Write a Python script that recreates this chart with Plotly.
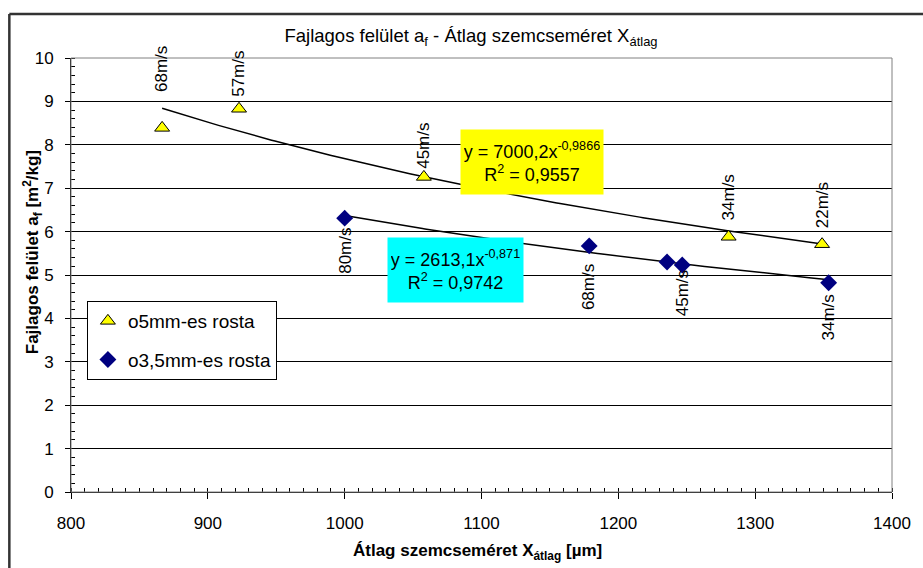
import numpy as np
import plotly.graph_objects as go

# Átlag szemcseméret [µm] és fajlagos felület [m2/kg] a két rostára
x_5mm = [866.6, 922.8, 1057.9, 1280.6, 1348.9]
y_5mm = [8.39, 8.83, 7.26, 5.88, 5.71]
lab_5mm = ["68m/s", "57m/s", "45m/s", "34m/s", "22m/s"]

x_35mm = [1000.0, 1178.7, 1235.6, 1246.7, 1353.7]
y_35mm = [6.31, 5.67, 5.30, 5.23, 4.82]
lab_35mm = ["80m/s", "68m/s", "", "45m/s", "34m/s"]

# hatványfüggvény trendvonalak: y = a * x^b, R^2
fit_5mm = [7000.2, -0.9866, 0.9557]
fit_35mm = [2613.1, -0.871, 0.9742]

x_ticks = [800, 900, 1000, 1100, 1200, 1300, 1400]
y_ticks = [0, 1, 2, 3, 4, 5, 6, 7, 8, 9, 10]

FONT = "Arial, Liberation Sans, sans-serif"


def hu(v):
    return str(v).replace(".", ",")


def eq_text(fit):
    a, b, r2 = fit
    return f"y = {hu(a)}x<sup>{hu(b)}</sup><br>R<sup>2</sup> = {hu(r2)}"


def trend(xs, fit):
    xx = np.linspace(min(xs), max(xs), 200)
    return xx, fit[0] * xx ** fit[1]


fig = go.Figure()

tx, ty = trend(x_5mm, fit_5mm)
fig.add_trace(go.Scatter(x=tx, y=ty, mode="lines", line=dict(color="black", width=1.5),
                         showlegend=False, hoverinfo="skip"))
dx, dy = trend(x_35mm, fit_35mm)
fig.add_trace(go.Scatter(x=dx, y=dy, mode="lines", line=dict(color="black", width=1.5),
                         showlegend=False, hoverinfo="skip"))

fig.add_trace(go.Scatter(
    x=x_5mm, y=y_5mm, mode="markers", name="o5mm-es rosta", legendgroup="a",
    marker=dict(symbol="triangle-up", size=13, color="#FFFF00",
                line=dict(color="black", width=1))))
fig.add_trace(go.Scatter(
    x=x_35mm, y=y_35mm, mode="markers", name="o3,5mm-es rosta", legendgroup="b",
    marker=dict(symbol="diamond", size=13, color="#000080",
                line=dict(color="#000080", width=0))))

annotations = []
# sebesség feliratok (függőlegesen) a pontok fölött / alatt
shift_5mm = [34, 10, 6, 14, 14]
for x, y, t, s in zip(x_5mm, y_5mm, lab_5mm, shift_5mm):
    if t:
        annotations.append(dict(x=x, y=y, text=t, textangle=-90, showarrow=False,
                                xanchor="center", yanchor="bottom", yshift=s,
                                font=dict(family=FONT, size=17, color="black")))
shift_35mm = [-8, -16, 0, -3, -10]
for x, y, t, s in zip(x_35mm, y_35mm, lab_35mm, shift_35mm):
    if t:
        annotations.append(dict(x=x, y=y, text=t, textangle=-90, showarrow=False,
                                xanchor="center", yanchor="top", yshift=s,
                                font=dict(family=FONT, size=17, color="black")))

# trendvonal egyenletek
annotations.append(dict(x=1137, y=7.6, text=eq_text(fit_5mm), showarrow=False,
                        bgcolor="#FFFF00", width=136, height=58, borderpad=3,
                        font=dict(family=FONT, size=18, color="black")))
annotations.append(dict(x=1080.7, y=5.115, text=eq_text(fit_35mm), showarrow=False,
                        bgcolor="#00FFFF", width=129, height=58, borderpad=3,
                        font=dict(family=FONT, size=18, color="black")))

# tengelycímek
annotations.append(dict(xref="paper", yref="paper", x=(33 - 71) / 826, y=(492 - 252) / 434,
                        text="<b>Fajlagos felület a<sub>f</sub> [m<sup>2</sup>/kg]</b>",
                        textangle=-90, showarrow=False, xanchor="center", yanchor="middle",
                        font=dict(family=FONT, size=17, color="black")))
annotations.append(dict(xref="paper", yref="paper", x=(480 - 71) / 826, y=(492 - 552) / 434,
                        text="<b>Átlag szemcseméret X<sub>átlag</sub> [µm]</b>",
                        showarrow=False, xanchor="center", yanchor="middle",
                        font=dict(family=FONT, size=17, color="black")))

shapes = [
    # rajzterület kerete
    dict(type="rect", xref="paper", yref="paper", x0=0, y0=0, x1=1, y1=1,
         line=dict(color="#808080", width=1)),
    # diagram külső kerete
    dict(type="line", xref="paper", yref="paper", x0=-0.0751, y0=1.1014, x1=1.06, y1=1.1014,
         line=dict(color="#333333", width=2.5)),
    dict(type="line", xref="paper", yref="paper", x0=-0.0751, y0=1.1014, x1=-0.0751, y1=-0.25,
         line=dict(color="#333333", width=2.5)),
]

fig.update_layout(
    width=923, height=568, autosize=False,
    margin=dict(l=71, r=26, t=58, b=76, pad=0),
    paper_bgcolor="white", plot_bgcolor="white",
    font=dict(family=FONT, size=17, color="black"),
    title=dict(text="Fajlagos felület a<sub>f</sub> - Átlag szemcseméret X<sub>átlag</sub>",
               x=471 / 923, xanchor="center", y=1 - 36 / 568, yanchor="middle",
               font=dict(family=FONT, size=18.5, color="black")),
    xaxis=dict(range=[800, 1400], tickvals=x_ticks, ticktext=[str(v) for v in x_ticks],
               showgrid=False, zeroline=False, showline=True, linecolor="black", linewidth=1,
               ticks="outside", ticklen=6, tickcolor="black", ticklabelstandoff=10,
               minor=dict(ticks="inside", dtick=10, ticklen=4, tickcolor="black", showgrid=False),
               tickfont=dict(family=FONT, size=17, color="black")),
    yaxis=dict(range=[0, 10], tickvals=y_ticks, ticktext=[str(v) for v in y_ticks],
               showgrid=True, gridcolor="black", gridwidth=1, zeroline=False,
               showline=True, linecolor="black", linewidth=1,
               ticks="outside", ticklen=5, tickcolor="black", ticklabelstandoff=8,
               minor=dict(ticks="inside", dtick=0.2, ticklen=4, tickcolor="black", showgrid=False),
               tickfont=dict(family=FONT, size=17, color="black")),
    legend=dict(x=(87 - 71) / 826, y=(492 - 301) / 434, xanchor="left", yanchor="top",
                bgcolor="white", bordercolor="black", borderwidth=1,
                traceorder="grouped", tracegroupgap=11,
                font=dict(family=FONT, size=19, color="black")),
    annotations=annotations,
    shapes=shapes,
)

fig.write_html("out.html")
